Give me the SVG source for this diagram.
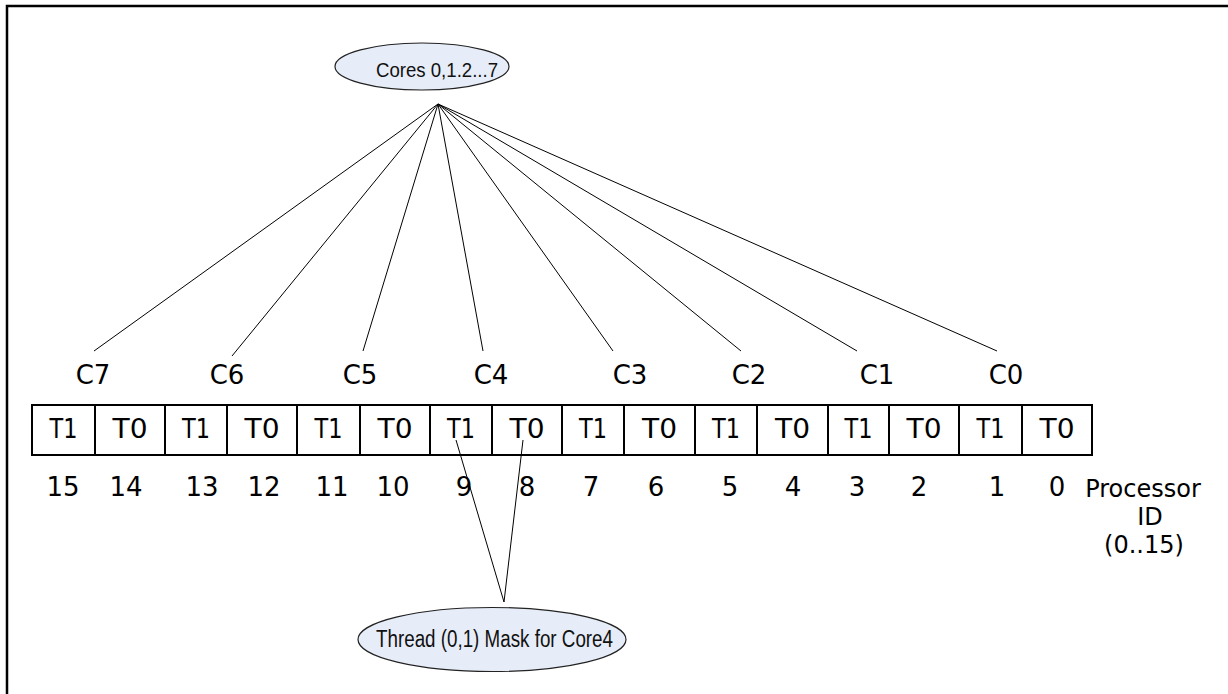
<svg xmlns="http://www.w3.org/2000/svg" width="1228" height="694" viewBox="0 0 1228 694">
<style>
.frame{fill:none;stroke:#000;stroke-width:2.5}
.ell{fill:#e7edf8;stroke:#222;stroke-width:1.2}
.etxt{font-family:"Liberation Sans",Arial,sans-serif;fill:#111;text-anchor:middle}
.cell{fill:#fff;stroke:#000;stroke-width:2}
.lbl{font-family:"DejaVu Sans",Verdana,sans-serif;font-size:26px;fill:#000;text-anchor:middle}
.pid{font-family:"DejaVu Sans",Verdana,sans-serif;font-size:24px;fill:#000;text-anchor:middle}
.conn line{stroke:#000;stroke-width:1}
</style>
<rect width="1228" height="694" fill="#fff"/>
<path class="frame" d="M7,700 V6 H1232"/>

<g id="cores">
<ellipse class="ell" cx="422" cy="66.5" rx="87" ry="23.5"/>
<text class="etxt" x="437" y="77" font-size="21" textLength="122" lengthAdjust="spacingAndGlyphs">Cores 0,1.2...7</text>
</g>

<g id="mask">
<ellipse class="ell" cx="492" cy="639.5" rx="134" ry="32"/>
<text class="etxt" x="494.5" y="647" font-size="23" textLength="237" lengthAdjust="spacingAndGlyphs">Thread (0,1) Mask for Core4</text>
</g>

<g id="cores-labels">
<text class="lbl" x="93" y="384">C7</text>
<text class="lbl" x="227" y="384">C6</text>
<text class="lbl" x="360" y="384">C5</text>
<text class="lbl" x="491" y="384">C4</text>
<text class="lbl" x="630" y="384">C3</text>
<text class="lbl" x="749" y="384">C2</text>
<text class="lbl" x="877" y="384">C1</text>
<text class="lbl" x="1006" y="384">C0</text>
</g>

<g id="threads">
<rect class="cell" x="32" y="405" width="63" height="50"/>
<rect class="cell" x="95" y="405" width="70" height="50"/>
<rect class="cell" x="165" y="405" width="62" height="50"/>
<rect class="cell" x="227" y="405" width="70" height="50"/>
<rect class="cell" x="297" y="405" width="63" height="50"/>
<rect class="cell" x="360" y="405" width="70" height="50"/>
<rect class="cell" x="430" y="405" width="62" height="50"/>
<rect class="cell" x="492" y="405" width="70" height="50"/>
<rect class="cell" x="562" y="405" width="62" height="50"/>
<rect class="cell" x="624" y="405" width="71" height="50"/>
<rect class="cell" x="695" y="405" width="62" height="50"/>
<rect class="cell" x="757" y="405" width="71" height="50"/>
<rect class="cell" x="828" y="405" width="61" height="50"/>
<rect class="cell" x="889" y="405" width="70" height="50"/>
<rect class="cell" x="959" y="405" width="63" height="50"/>
<rect class="cell" x="1022" y="405" width="70" height="50"/>
<text class="lbl" x="63.5" y="438" textLength="28" lengthAdjust="spacingAndGlyphs">T1</text>
<text class="lbl" x="130" y="438" textLength="35" lengthAdjust="spacingAndGlyphs">T0</text>
<text class="lbl" x="196" y="438" textLength="28" lengthAdjust="spacingAndGlyphs">T1</text>
<text class="lbl" x="262" y="438" textLength="35" lengthAdjust="spacingAndGlyphs">T0</text>
<text class="lbl" x="328.5" y="438" textLength="28" lengthAdjust="spacingAndGlyphs">T1</text>
<text class="lbl" x="395" y="438" textLength="35" lengthAdjust="spacingAndGlyphs">T0</text>
<text class="lbl" x="461" y="438" textLength="28" lengthAdjust="spacingAndGlyphs">T1</text>
<text class="lbl" x="527" y="438" textLength="35" lengthAdjust="spacingAndGlyphs">T0</text>
<text class="lbl" x="593" y="438" textLength="28" lengthAdjust="spacingAndGlyphs">T1</text>
<text class="lbl" x="659.5" y="438" textLength="35" lengthAdjust="spacingAndGlyphs">T0</text>
<text class="lbl" x="726" y="438" textLength="28" lengthAdjust="spacingAndGlyphs">T1</text>
<text class="lbl" x="792.5" y="438" textLength="35" lengthAdjust="spacingAndGlyphs">T0</text>
<text class="lbl" x="858.5" y="438" textLength="28" lengthAdjust="spacingAndGlyphs">T1</text>
<text class="lbl" x="924" y="438" textLength="35" lengthAdjust="spacingAndGlyphs">T0</text>
<text class="lbl" x="990.5" y="438" textLength="28" lengthAdjust="spacingAndGlyphs">T1</text>
<text class="lbl" x="1057" y="438" textLength="35" lengthAdjust="spacingAndGlyphs">T0</text>
</g>

<g id="ids">
<text class="lbl" x="63" y="496">15</text>
<text class="lbl" x="126" y="496">14</text>
<text class="lbl" x="202" y="496">13</text>
<text class="lbl" x="264" y="496">12</text>
<text class="lbl" x="332" y="496">11</text>
<text class="lbl" x="393" y="496">10</text>
<text class="lbl" x="464" y="496">9</text>
<text class="lbl" x="527" y="496">8</text>
<text class="lbl" x="591" y="496">7</text>
<text class="lbl" x="656" y="496">6</text>
<text class="lbl" x="730" y="496">5</text>
<text class="lbl" x="793" y="496">4</text>
<text class="lbl" x="857" y="496">3</text>
<text class="lbl" x="919" y="496">2</text>
<text class="lbl" x="997" y="496">1</text>
<text class="lbl" x="1057" y="496">0</text>
</g>

<g id="processor-id">
<text class="pid" x="1143" y="497">Processor</text>
<text class="pid" x="1150" y="525">ID</text>
<text class="pid" x="1144" y="553">(0..15)</text>
</g>

<g class="conn" id="connectors">
<line x1="438" y1="104" x2="94" y2="351"/>
<line x1="438" y1="104" x2="232" y2="356"/>
<line x1="438" y1="104" x2="363" y2="351"/>
<line x1="438" y1="104" x2="483" y2="351"/>
<line x1="438" y1="104" x2="613" y2="351"/>
<line x1="438" y1="104" x2="741" y2="351"/>
<line x1="438" y1="104" x2="857" y2="351"/>
<line x1="438" y1="104" x2="997" y2="351"/>
<line x1="504" y1="602" x2="456" y2="440"/>
<line x1="504" y1="602" x2="523" y2="440"/>
</g>
</svg>
